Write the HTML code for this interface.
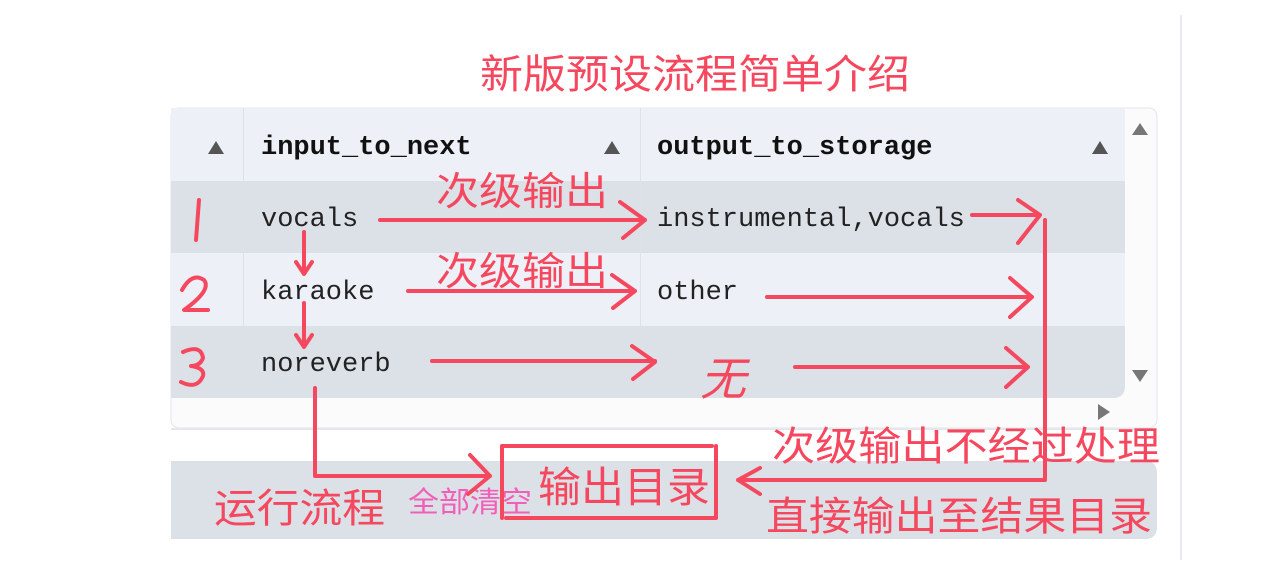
<!DOCTYPE html>
<html><head><meta charset="utf-8"><style>
body{margin:0;background:#fff;width:1269px;height:577px;overflow:hidden}
svg{display:block}
.m{font-family:"Liberation Mono",monospace;font-size:27px;fill:#222}
.h{font-weight:bold;fill:#111}
.r{font-family:"Liberation Sans","Noto Sans CJK SC",sans-serif;fill:#f5475e}
</style></head><body>
<svg width="1269" height="577" viewBox="0 0 1269 577">
<rect x="1180" y="15" width="2" height="545" fill="#e6e9ee"/>
<rect x="171" y="108" width="986" height="320" fill="#fbfbfb" stroke="#e3e6ea" rx="8"/>
<rect x="171" y="108" width="954" height="73" fill="#edf1f7"/>
<rect x="171" y="181" width="954" height="72" fill="#dce1e7"/>
<rect x="171" y="253" width="954" height="73" fill="#edf1f7"/>
<path d="M171 326H1125V386Q1125 398 1113 398H171Z" fill="#dce1e7"/>
<rect x="243" y="108" width="1" height="218" fill="#dde2e8"/>
<rect x="640" y="108" width="1" height="218" fill="#dde2e8"/>
<rect x="171" y="428" width="986" height="2" fill="#e4e7eb"/>
<path d="M171 461H1145Q1157 461 1157 473V527Q1157 539 1145 539H171Z" fill="#dce1e7"/>
<g fill="#555">
<path d="M208 154l8-13 8 13z"/><path d="M604 154l8-13 8 13z"/><path d="M1092 154l8-13 8 13z"/>
<path d="M1132 135l8-12 8 12z" fill="#777"/><path d="M1132 370l8 12 8-12z" fill="#777"/><path d="M1098 404l12 8-12 8z" fill="#777"/>
</g>
<text class="m h" x="261" y="154">input_to_next</text>
<text class="m h" x="657" y="154">output_to_storage</text>
<text class="m" x="261" y="226">vocals</text>
<text class="m" x="657" y="226">instrumental,vocals</text>
<text class="m" x="261" y="299">karaoke</text>
<text class="m" x="657" y="299">other</text>
<text class="m" x="261" y="371">noreverb</text>
<text class="r" x="480" y="88" font-size="40" textLength="430" lengthAdjust="spacingAndGlyphs">新版预设流程简单介绍</text>
<text class="r" x="436" y="205" font-size="39" textLength="172" lengthAdjust="spacingAndGlyphs">次级输出</text>
<text class="r" x="436" y="285" font-size="39" textLength="172" lengthAdjust="spacingAndGlyphs">次级输出</text>
<text class="r" x="772" y="460" font-size="40" textLength="388" lengthAdjust="spacingAndGlyphs">次级输出不经过处理</text>
<text class="r" x="766" y="530" font-size="40" textLength="386" lengthAdjust="spacingAndGlyphs">直接输出至结果目录</text>
<text class="r" x="214" y="522" font-size="40" textLength="171" lengthAdjust="spacingAndGlyphs">运行流程</text>
<text class="r" x="408" y="512" font-size="29" textLength="124" lengthAdjust="spacingAndGlyphs" style="fill:#f25fb8">全部清空</text>
<text class="r" x="538" y="502" font-size="42" textLength="172" lengthAdjust="spacingAndGlyphs">输出目录</text>
<text class="r" x="700" y="395" font-size="46" font-style="italic">无</text>
<g stroke="#f5475e" stroke-width="4" fill="none" stroke-linecap="round" stroke-linejoin="round">
<path d="M199 200l-3 40"/>
<path d="M182 290q10-18 22-10q8 10-20 30h24"/>
<path d="M183 352q18-8 20 6q-3 8-12 8q14 2 12 10q-6 14-22 6"/>
<path d="M380 220H645M620 202l25 18-22 18"/>
<path d="M408 291H635M612 275l23 16-22 17"/>
<path d="M432 361H655M632 346l23 16-22 17"/>
<path d="M972 215H1040M1018 200l22 15-22 28"/>
<path d="M767 297H1032M1010 278l22 19-22 20"/>
<path d="M795 367H1028M1006 348l22 19-22 20"/>
<path d="M1045 220V480H738M760 468l-22 12 22 14"/>
<path d="M304 232V272M296 262l8 12 8-12"/>
<path d="M304 303V345M296 335l8 12 8-12"/>
<path d="M315 388V476H490M470 455l20 21-22 18"/>
<path d="M502 446H712M716 446V518H506M502 446V518"/>
</g>
</svg>
</body></html>
